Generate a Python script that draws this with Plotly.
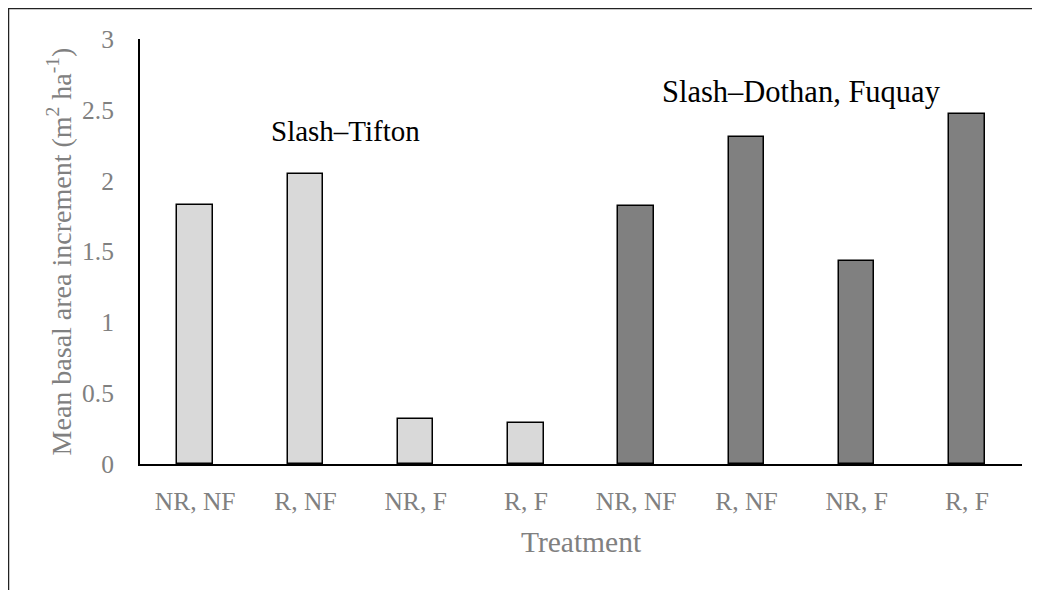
import plotly.graph_objects as go

treatments = ["NR, NF", "R, NF", "NR, F", "R, F", "NR, NF", "R, NF", "NR, F", "R, F"]
tifton_values = [1.83, 2.05, 0.32, 0.29]
dothan_values = [1.82, 2.31, 1.43, 2.47]
group_labels = ["Slash\u2013Tifton", "Slash\u2013Dothan, Fuquay"]
y_ticks = [0, 0.5, 1, 1.5, 2, 2.5, 3]
y_tick_text = ["0", "0.5", "1", "1.5", "2", "2.5", "3"]

FONT = "Liberation Serif"
GREY = "#808080"

x_all = list(range(len(treatments)))
x_tifton = x_all[:4]
x_dothan = x_all[4:]

fig = go.Figure()
fig.add_trace(go.Bar(x=x_tifton, y=tifton_values, width=0.32,
                     marker=dict(color="#d9d9d9", line=dict(color="black", width=1.5)),
                     showlegend=False))
fig.add_trace(go.Bar(x=x_dothan, y=dothan_values, width=0.32,
                     marker=dict(color="#808080", line=dict(color="black", width=1.5)),
                     showlegend=False))

L, R, T, B = 132, 26, 31, 134
W, H = 1040, 590
pw = W - L - R
ph = H - T - B

def px_x(p):
    return (p - L) / pw

def px_y(p):
    return (H - B - p) / ph

fig.update_layout(
    width=W, height=H,
    margin=dict(l=L, r=R, t=T, b=B),
    paper_bgcolor="white", plot_bgcolor="white",
    font=dict(family=FONT, color=GREY, size=25),
    xaxis=dict(
        range=[-0.5, 7.5],
        tickmode="array", tickvals=x_all, ticktext=treatments,
        showline=True, linecolor="black", linewidth=2,
        showgrid=False, zeroline=False, ticks="",
        ticklabelstandoff=13,
        tickfont=dict(family=FONT, size=25.5, color=GREY),
        title=dict(text="Treatment", font=dict(family=FONT, size=29.5, color=GREY), standoff=17),
    ),
    yaxis=dict(
        range=[0, 3],
        tickmode="array", tickvals=y_ticks, ticktext=y_tick_text,
        showline=True, linecolor="black", linewidth=2,
        showgrid=False, zeroline=False, ticks="",
        ticklabelstandoff=19,
        tickfont=dict(family=FONT, size=25.5, color=GREY),
        title=dict(text="Mean basal area increment (m<sup>2</sup> ha<sup>-1</sup>)",
                   font=dict(family=FONT, size=28, color=GREY), standoff=2),
    ),
    bargap=0,
    annotations=[
        dict(x=1.36, y=2.35, xref="x", yref="y", text=group_labels[0], showarrow=False,
             font=dict(family=FONT, size=29, color="black")),
        dict(x=5.5, y=2.625, xref="x", yref="y", text=group_labels[1], showarrow=False,
             font=dict(family=FONT, size=30.5, color="black")),
    ],
    shapes=[
        dict(type="rect", xref="paper", yref="paper",
             x0=px_x(0.5), x1=px_x(W - 0.5), y0=px_y(H - 0.5), y1=px_y(0.5),
             line=dict(color="#222222", width=1.5)),
    ],
)

fig.write_html("out.html")
